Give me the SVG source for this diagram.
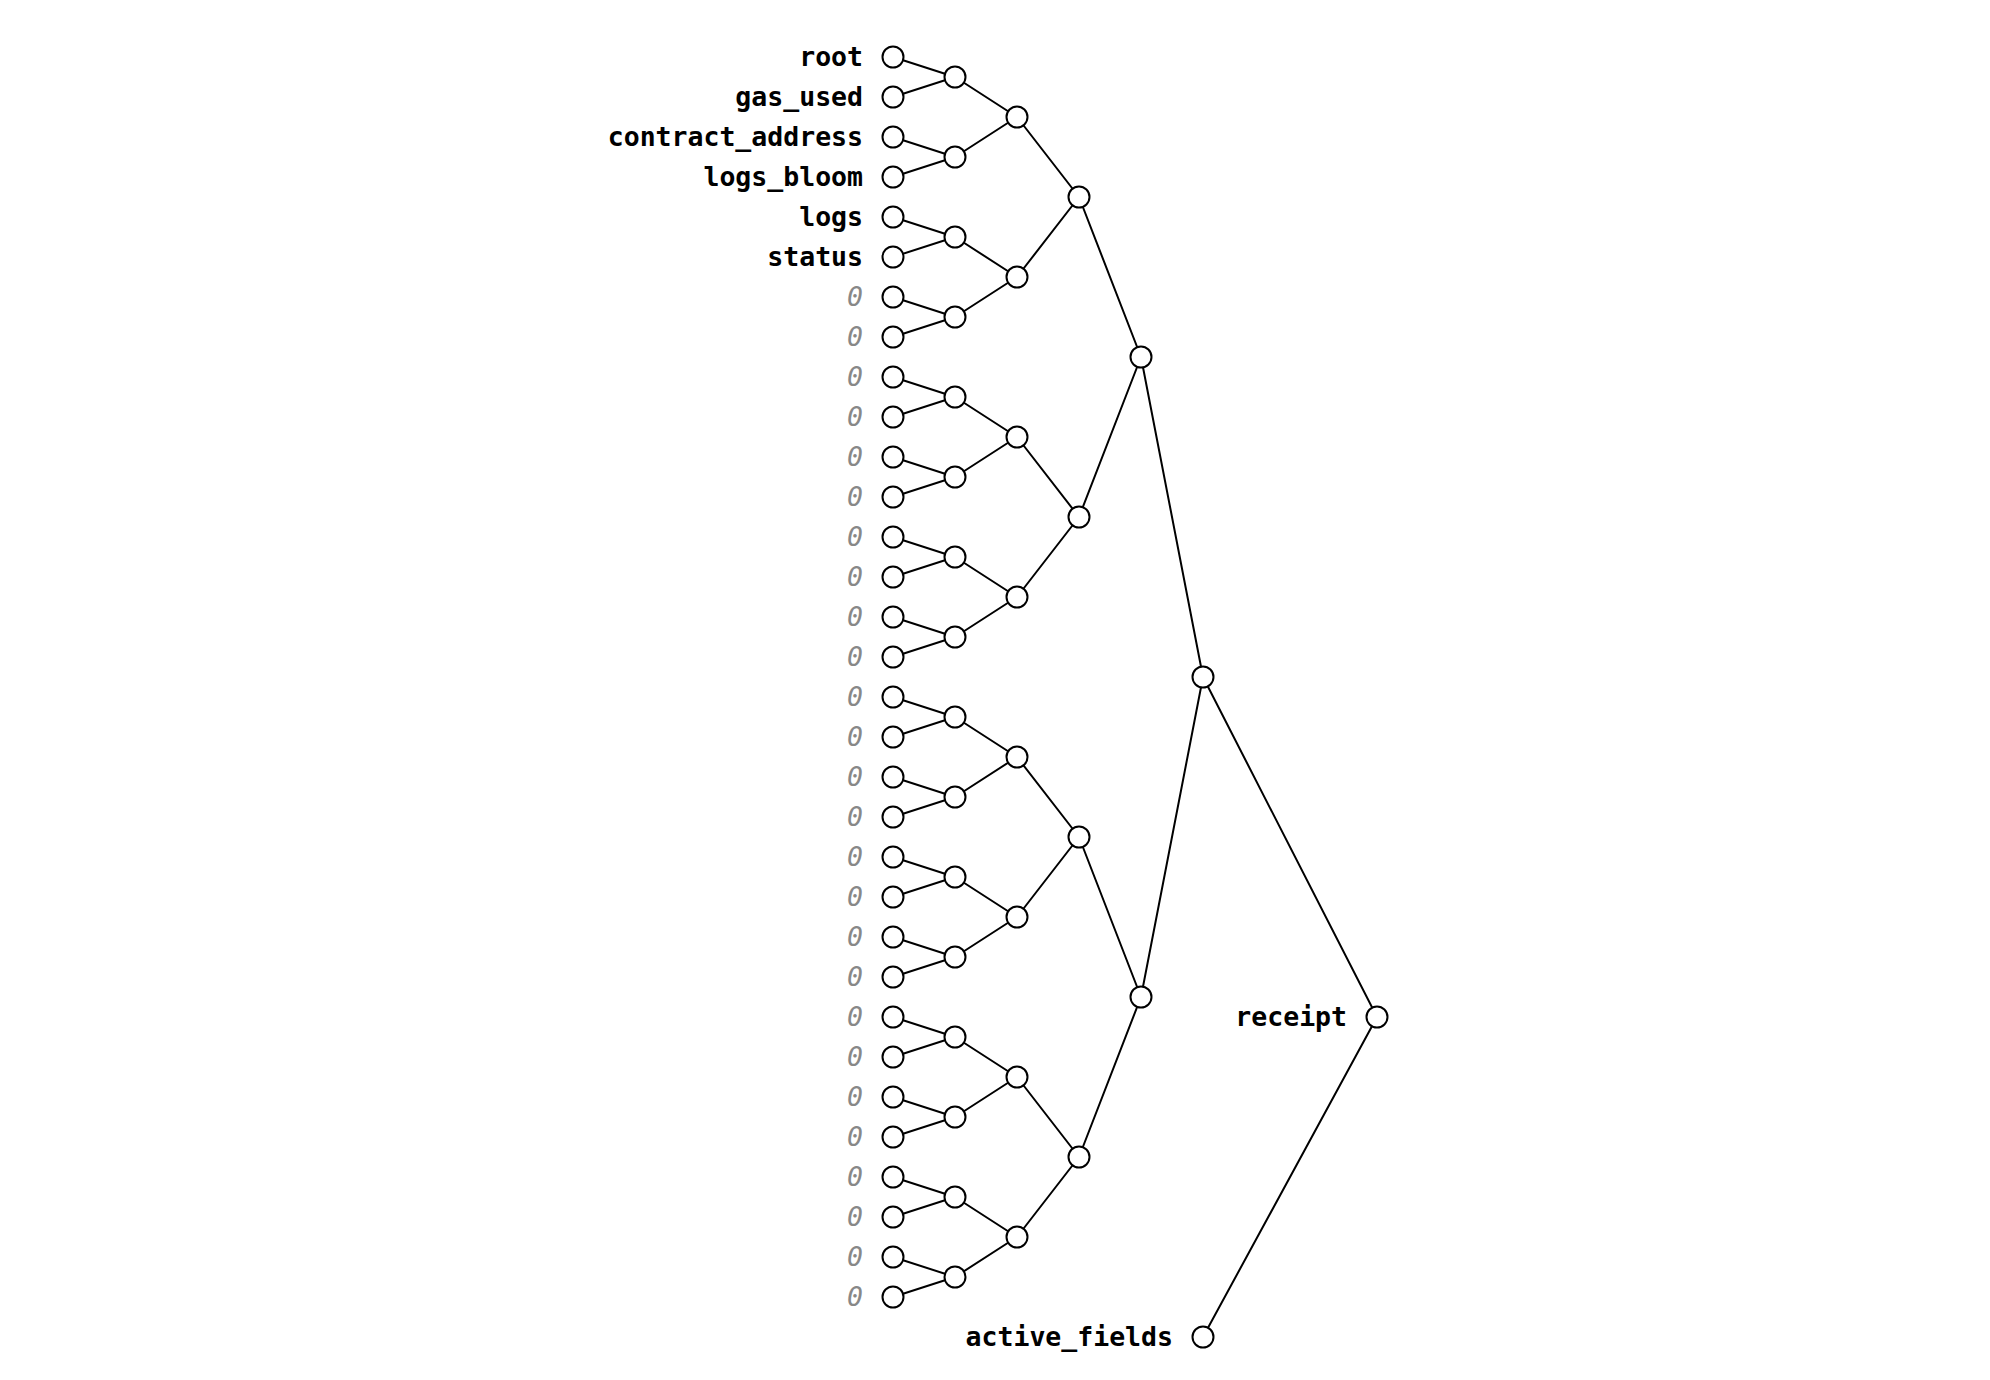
<svg xmlns="http://www.w3.org/2000/svg" width="1990" height="1380" viewBox="0 0 1990 1380">
<style>
.n{fill:#fff;stroke:#000;stroke-width:2}
.e{stroke:#000;stroke-width:2;fill:none}
.t{font-family:"DejaVu Sans Mono","Liberation Mono",monospace;font-size:26.5px;font-weight:bold;fill:#000;text-anchor:end}
.z{font-family:"DejaVu Sans Mono","Liberation Mono",monospace;font-size:26.5px;font-style:italic;fill:#888;text-anchor:end}
</style>
<rect width="1990" height="1380" fill="#fff"/>
<g id="connectors">
<path class="e" d="M893 57L955 77M893 97L955 77M893 137L955 157M893 177L955 157M893 217L955 237M893 257L955 237M893 297L955 317M893 337L955 317M893 377L955 397M893 417L955 397M893 457L955 477M893 497L955 477M893 537L955 557M893 577L955 557M893 617L955 637M893 657L955 637M893 697L955 717M893 737L955 717M893 777L955 797M893 817L955 797M893 857L955 877M893 897L955 877M893 937L955 957M893 977L955 957M893 1017L955 1037M893 1057L955 1037M893 1097L955 1117M893 1137L955 1117M893 1177L955 1197M893 1217L955 1197M893 1257L955 1277M893 1297L955 1277"/>
<path class="e" d="M955 77L1017 117M955 157L1017 117M955 237L1017 277M955 317L1017 277M955 397L1017 437M955 477L1017 437M955 557L1017 597M955 637L1017 597M955 717L1017 757M955 797L1017 757M955 877L1017 917M955 957L1017 917M955 1037L1017 1077M955 1117L1017 1077M955 1197L1017 1237M955 1277L1017 1237"/>
<path class="e" d="M1017 117L1079 197M1017 277L1079 197M1017 437L1079 517M1017 597L1079 517M1017 757L1079 837M1017 917L1079 837M1017 1077L1079 1157M1017 1237L1079 1157"/>
<path class="e" d="M1079 197L1141 357M1079 517L1141 357M1079 837L1141 997M1079 1157L1141 997"/>
<path class="e" d="M1141 357L1203 677M1141 997L1203 677"/>
<path class="e" d="M1203 677L1377 1017M1203 1337L1377 1017"/>
</g>
<g id="leaves">
<g id="leaf0"><circle class="n" cx="893" cy="57" r="10.5"/><text class="t" x="863" y="66">root</text></g>
<g id="leaf1"><circle class="n" cx="893" cy="97" r="10.5"/><text class="t" x="863" y="106">gas_used</text></g>
<g id="leaf2"><circle class="n" cx="893" cy="137" r="10.5"/><text class="t" x="863" y="146">contract_address</text></g>
<g id="leaf3"><circle class="n" cx="893" cy="177" r="10.5"/><text class="t" x="863" y="186">logs_bloom</text></g>
<g id="leaf4"><circle class="n" cx="893" cy="217" r="10.5"/><text class="t" x="863" y="226">logs</text></g>
<g id="leaf5"><circle class="n" cx="893" cy="257" r="10.5"/><text class="t" x="863" y="266">status</text></g>
<g id="leaf6"><circle class="n" cx="893" cy="297" r="10.5"/><text class="z" x="863" y="306">0</text></g>
<g id="leaf7"><circle class="n" cx="893" cy="337" r="10.5"/><text class="z" x="863" y="346">0</text></g>
<g id="leaf8"><circle class="n" cx="893" cy="377" r="10.5"/><text class="z" x="863" y="386">0</text></g>
<g id="leaf9"><circle class="n" cx="893" cy="417" r="10.5"/><text class="z" x="863" y="426">0</text></g>
<g id="leaf10"><circle class="n" cx="893" cy="457" r="10.5"/><text class="z" x="863" y="466">0</text></g>
<g id="leaf11"><circle class="n" cx="893" cy="497" r="10.5"/><text class="z" x="863" y="506">0</text></g>
<g id="leaf12"><circle class="n" cx="893" cy="537" r="10.5"/><text class="z" x="863" y="546">0</text></g>
<g id="leaf13"><circle class="n" cx="893" cy="577" r="10.5"/><text class="z" x="863" y="586">0</text></g>
<g id="leaf14"><circle class="n" cx="893" cy="617" r="10.5"/><text class="z" x="863" y="626">0</text></g>
<g id="leaf15"><circle class="n" cx="893" cy="657" r="10.5"/><text class="z" x="863" y="666">0</text></g>
<g id="leaf16"><circle class="n" cx="893" cy="697" r="10.5"/><text class="z" x="863" y="706">0</text></g>
<g id="leaf17"><circle class="n" cx="893" cy="737" r="10.5"/><text class="z" x="863" y="746">0</text></g>
<g id="leaf18"><circle class="n" cx="893" cy="777" r="10.5"/><text class="z" x="863" y="786">0</text></g>
<g id="leaf19"><circle class="n" cx="893" cy="817" r="10.5"/><text class="z" x="863" y="826">0</text></g>
<g id="leaf20"><circle class="n" cx="893" cy="857" r="10.5"/><text class="z" x="863" y="866">0</text></g>
<g id="leaf21"><circle class="n" cx="893" cy="897" r="10.5"/><text class="z" x="863" y="906">0</text></g>
<g id="leaf22"><circle class="n" cx="893" cy="937" r="10.5"/><text class="z" x="863" y="946">0</text></g>
<g id="leaf23"><circle class="n" cx="893" cy="977" r="10.5"/><text class="z" x="863" y="986">0</text></g>
<g id="leaf24"><circle class="n" cx="893" cy="1017" r="10.5"/><text class="z" x="863" y="1026">0</text></g>
<g id="leaf25"><circle class="n" cx="893" cy="1057" r="10.5"/><text class="z" x="863" y="1066">0</text></g>
<g id="leaf26"><circle class="n" cx="893" cy="1097" r="10.5"/><text class="z" x="863" y="1106">0</text></g>
<g id="leaf27"><circle class="n" cx="893" cy="1137" r="10.5"/><text class="z" x="863" y="1146">0</text></g>
<g id="leaf28"><circle class="n" cx="893" cy="1177" r="10.5"/><text class="z" x="863" y="1186">0</text></g>
<g id="leaf29"><circle class="n" cx="893" cy="1217" r="10.5"/><text class="z" x="863" y="1226">0</text></g>
<g id="leaf30"><circle class="n" cx="893" cy="1257" r="10.5"/><text class="z" x="863" y="1266">0</text></g>
<g id="leaf31"><circle class="n" cx="893" cy="1297" r="10.5"/><text class="z" x="863" y="1306">0</text></g>
</g>
<g id="level1">
<g id="l1_0"><circle class="n" cx="955" cy="77" r="10.5"/></g>
<g id="l1_1"><circle class="n" cx="955" cy="157" r="10.5"/></g>
<g id="l1_2"><circle class="n" cx="955" cy="237" r="10.5"/></g>
<g id="l1_3"><circle class="n" cx="955" cy="317" r="10.5"/></g>
<g id="l1_4"><circle class="n" cx="955" cy="397" r="10.5"/></g>
<g id="l1_5"><circle class="n" cx="955" cy="477" r="10.5"/></g>
<g id="l1_6"><circle class="n" cx="955" cy="557" r="10.5"/></g>
<g id="l1_7"><circle class="n" cx="955" cy="637" r="10.5"/></g>
<g id="l1_8"><circle class="n" cx="955" cy="717" r="10.5"/></g>
<g id="l1_9"><circle class="n" cx="955" cy="797" r="10.5"/></g>
<g id="l1_10"><circle class="n" cx="955" cy="877" r="10.5"/></g>
<g id="l1_11"><circle class="n" cx="955" cy="957" r="10.5"/></g>
<g id="l1_12"><circle class="n" cx="955" cy="1037" r="10.5"/></g>
<g id="l1_13"><circle class="n" cx="955" cy="1117" r="10.5"/></g>
<g id="l1_14"><circle class="n" cx="955" cy="1197" r="10.5"/></g>
<g id="l1_15"><circle class="n" cx="955" cy="1277" r="10.5"/></g>
</g>
<g id="level2">
<g id="l2_0"><circle class="n" cx="1017" cy="117" r="10.5"/></g>
<g id="l2_1"><circle class="n" cx="1017" cy="277" r="10.5"/></g>
<g id="l2_2"><circle class="n" cx="1017" cy="437" r="10.5"/></g>
<g id="l2_3"><circle class="n" cx="1017" cy="597" r="10.5"/></g>
<g id="l2_4"><circle class="n" cx="1017" cy="757" r="10.5"/></g>
<g id="l2_5"><circle class="n" cx="1017" cy="917" r="10.5"/></g>
<g id="l2_6"><circle class="n" cx="1017" cy="1077" r="10.5"/></g>
<g id="l2_7"><circle class="n" cx="1017" cy="1237" r="10.5"/></g>
</g>
<g id="level3">
<g id="l3_0"><circle class="n" cx="1079" cy="197" r="10.5"/></g>
<g id="l3_1"><circle class="n" cx="1079" cy="517" r="10.5"/></g>
<g id="l3_2"><circle class="n" cx="1079" cy="837" r="10.5"/></g>
<g id="l3_3"><circle class="n" cx="1079" cy="1157" r="10.5"/></g>
</g>
<g id="level4">
<g id="l4_0"><circle class="n" cx="1141" cy="357" r="10.5"/></g>
<g id="l4_1"><circle class="n" cx="1141" cy="997" r="10.5"/></g>
</g>
<g id="fields_root"><circle class="n" cx="1203" cy="677" r="10.5"/></g>
<g id="active_fields"><circle class="n" cx="1203" cy="1337" r="10.5"/><text class="t" x="1173" y="1346">active_fields</text></g>
<g id="receipt"><circle class="n" cx="1377" cy="1017" r="10.5"/><text class="t" x="1347" y="1026">receipt</text></g>
</svg>
